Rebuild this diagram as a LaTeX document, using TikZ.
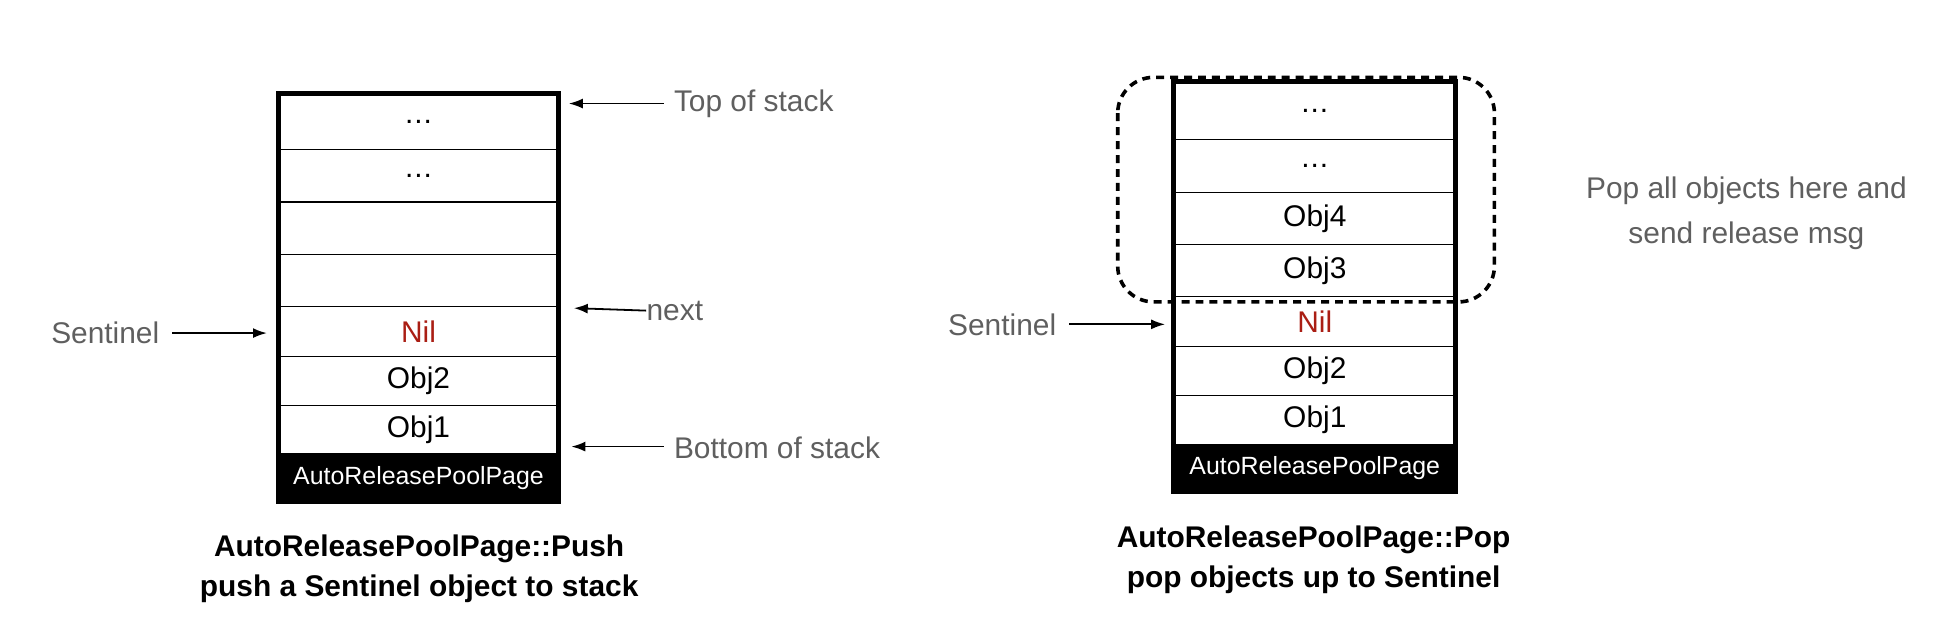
\documentclass[tikz,border=0pt]{standalone}
\usepackage{fontspec}
\setmainfont{Liberation Sans}
\usetikzlibrary{arrows.meta}
\definecolor{labelgray}{RGB}{95,95,95}
\definecolor{nilred}{RGB}{170,30,20}
\newcommand{\cdotsrow}{.\kern0.5pt.\kern0.5pt.}
\tikzset{
  cellfont/.style={inner sep=0pt,font=\fontsize{15}{18}\selectfont},
  pagebar/.style={fill=black,text=white,font=\fontsize{12.5}{15}\selectfont,inner sep=0pt},
  note/.style={text=labelgray,font=\fontsize{15}{18}\selectfont,inner sep=0pt},
  caption/.style={font=\bfseries\fontsize{15}{20}\selectfont,align=center,inner sep=0pt},
  ptr/.style={-{Latex[length=7pt,width=5pt]},line width=0.9pt},
}
\begin{document}
\begin{tikzpicture}[x=0.022cm,y=-0.022cm]
  \useasboundingbox (0,0) rectangle (1560,499);
  % pile de gauche : Push
  \foreach \t/\b/\txt/\n in {75/120/\cdotsrow/la,120/162/\cdotsrow/lb,162/204//lc,204/246//ld,286/325/Obj2/lf,325/364/Obj1/lg}{
    \draw[line width=0.6pt] (223,\b) -- (448,\b);
    \node[cellfont] (\n) at (335.5,{(\t+\b)/2}) {\txt};}
  \node[cellfont,text=nilred] (le) at (335.5,266) {Nil};
  \draw[line width=0.6pt] (223,286) -- (448,286);
  \fill (223,364) rectangle (448,402);
  \node[pagebar] (lpage) at (335.5,383) {AutoReleasePoolPage};
  \draw[line width=2.5pt] (223,75) rectangle (448,402);
  % pile de droite : Pop
  \foreach \t/\b/\txt/\n in {65/112/\cdotsrow/ra,112/154/\cdotsrow/rb,154/196/Obj4/rc,196/238/Obj3/rd,278/317/Obj2/rf,317/356/Obj1/rg}{
    \draw[line width=0.6pt] (941,\b) -- (1167,\b);
    \node[cellfont] (\n) at (1054,{(\t+\b)/2}) {\txt};}
  \node[cellfont,text=nilred] (re) at (1054,258) {Nil};
  \draw[line width=0.6pt] (941,278) -- (1167,278);
  \fill (941,356) rectangle (1167,394);
  \node[pagebar] (rpage) at (1054,375) {AutoReleasePoolPage};
  \draw[line width=2.5pt] (941,65) rectangle (1167,394);
  \draw[line width=1.8pt,dash pattern=on 4pt off 3pt,rounded corners=18pt] (896,62) rectangle (1198,242);
  % étiquettes et pointeurs
  \node[note,anchor=west] (top) at (540,83) {Top of stack};
  \coordinate (topend) at (456,83);
  \draw[ptr] (532,83) -- (topend);
  \node[note,anchor=west] (next) at (518,249) {next};
  \coordinate (nextend) at (460,247);
  \draw[ptr] (next.west) -- (nextend);
  \node[note,anchor=west] (bottom) at (540,359) {Bottom of stack};
  \coordinate (bottomend) at (458,358);
  \draw[ptr] (532,358) -- (bottomend);
  \node[note,anchor=east] (lsent) at (128,267) {Sentinel};
  \coordinate (lsentend) at (214,267);
  \draw[ptr] ([xshift=10*0.022cm]lsent.east) -- (lsentend);
  \node[note,anchor=east] (rsent) at (847,260) {Sentinel};
  \coordinate (rsentend) at (934,260);
  \draw[ptr] ([xshift=10*0.022cm]rsent.east) -- (rsentend);
  \node[note,align=center,font=\fontsize{15}{22.5}\selectfont] (popnote) at (1400,171) {Pop all objects here and\\send release msg};
  \node[caption] (lcap) at (336,456) {AutoReleasePoolPage::Push\\push a Sentinel object to stack};
  \node[caption] (rcap) at (1053,449) {AutoReleasePoolPage::Pop\\pop objects up to Sentinel};
\end{tikzpicture}
\end{document}
